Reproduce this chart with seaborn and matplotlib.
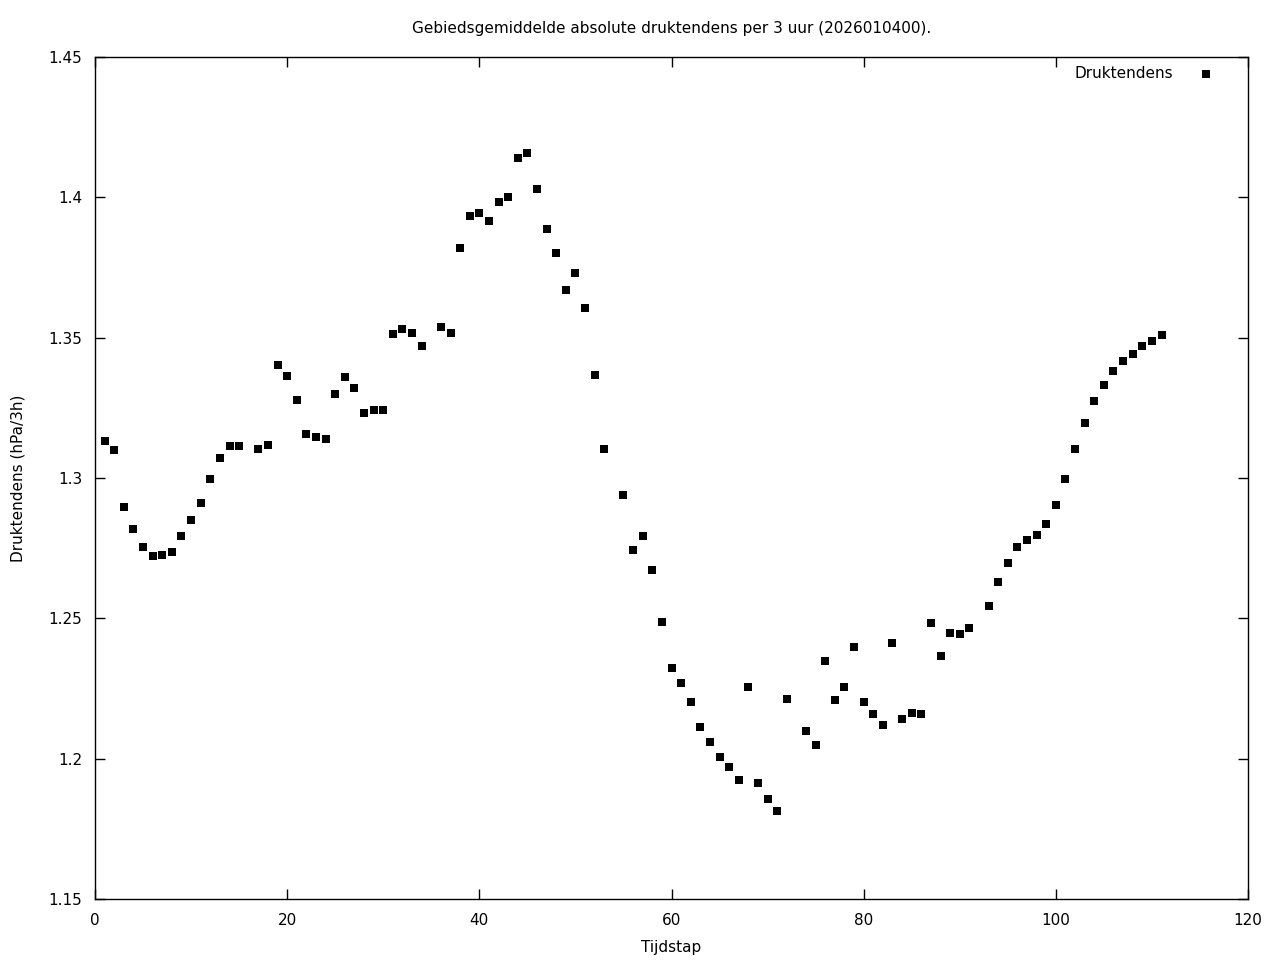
import numpy as np
import pandas as pd
import matplotlib
matplotlib.use('Agg')
import matplotlib.pyplot as plt
import seaborn as sns

# Tijdstappen 1..111 (16, 35, 54, 73 en 92 ontbreken)
tijdstap = [1, 2, 3, 4, 5, 6, 7, 8, 9, 10, 11, 12, 13, 14, 15, 17, 18, 19, 20,
            21, 22, 23, 24, 25, 26, 27, 28, 29, 30, 31, 32, 33, 34, 36, 37, 38,
            39, 40, 41, 42, 43, 44, 45, 46, 47, 48, 49, 50, 51, 52, 53, 55, 56,
            57, 58, 59, 60, 61, 62, 63, 64, 65, 66, 67, 68, 69, 70, 71, 72, 74,
            75, 76, 77, 78, 79, 80, 81, 82, 83, 84, 85, 86, 87, 88, 89, 90, 91,
            93, 94, 95, 96, 97, 98, 99, 100, 101, 102, 103, 104, 105, 106, 107,
            108, 109, 110, 111]

druktendens = [1.3132, 1.3100, 1.2897, 1.2818, 1.2754, 1.2722, 1.2726, 1.2736,
               1.2793, 1.2850, 1.2911, 1.2996, 1.3071, 1.3114, 1.3114, 1.3103,
               1.3118, 1.3403, 1.3363, 1.3278, 1.3157, 1.3146, 1.3139, 1.3299,
               1.3360, 1.3321, 1.3232, 1.3242, 1.3242, 1.3513, 1.3531, 1.3517,
               1.3470, 1.3538, 1.3517, 1.3820, 1.3933, 1.3944, 1.3916, 1.3983,
               1.4001, 1.4140, 1.4158, 1.4030, 1.3887, 1.3802, 1.3670, 1.3730,
               1.3606, 1.3367, 1.3103, 1.2939, 1.2743, 1.2793, 1.2672, 1.2487,
               1.2323, 1.2270, 1.2202, 1.2113, 1.2059, 1.2006, 1.1970, 1.1924,
               1.2255, 1.1913, 1.1856, 1.1814, 1.2213, 1.2099, 1.2049, 1.2348,
               1.2209, 1.2255, 1.2398, 1.2202, 1.2159, 1.2120, 1.2412, 1.2141,
               1.2163, 1.2159, 1.2483, 1.2366, 1.2448, 1.2444, 1.2466, 1.2544,
               1.2629, 1.2697, 1.2754, 1.2779, 1.2797, 1.2836, 1.2904, 1.2996,
               1.3103, 1.3196, 1.3274, 1.3331, 1.3381, 1.3417, 1.3442, 1.3470,
               1.3488, 1.3510]

x_ticks = [0, 20, 40, 60, 80, 100, 120]
y_ticks = [1.15, 1.2, 1.25, 1.3, 1.35, 1.4, 1.45]
y_labels = ['1.15', '1.2', '1.25', '1.3', '1.35', '1.4', '1.45']

df = pd.DataFrame({'Tijdstap': tijdstap, 'Druktendens': druktendens})

sns.set_style('ticks')
plt.rcParams['font.family'] = ['DejaVu Sans']
plt.rcParams['text.color'] = 'black'
plt.rcParams['axes.labelcolor'] = 'black'

fig = plt.figure(figsize=(12.8, 9.6), dpi=100)
ax = fig.add_axes([95 / 1280, 1 - 899 / 960, (1248 - 95) / 1280, (899 - 57) / 960])

sns.scatterplot(x='Tijdstap', y='Druktendens', data=df, ax=ax, marker='s',
                color='black', s=26, linewidth=0, label='Druktendens')

ax.set_xlim(0, 120)
ax.set_ylim(1.15, 1.45)
ax.set_xticks(x_ticks)
ax.set_yticks(y_ticks)
ax.set_yticklabels(y_labels)
ax.tick_params(direction='in', top=True, right=True, length=7, width=1,
               labelsize=11, colors='black')
ax.tick_params(axis='y', pad=9)
ax.tick_params(axis='x', pad=10)
for sp in ax.spines.values():
    sp.set_visible(True)
    sp.set_color('black')
    sp.set_linewidth(1)

ax.set_xlabel('Tijdstap', fontsize=11, labelpad=9)
ax.set_ylabel('Druktendens (hPa/3h)', fontsize=11, labelpad=17)
ax.set_title('Gebiedsgemiddelde absolute druktendens per 3 uur (2026010400).',
             fontsize=11, pad=17)

ax.legend(loc='upper right', bbox_to_anchor=(0.9844, 1.0), frameon=False,
          markerfirst=False, fontsize=11, handletextpad=1.14,
          borderaxespad=0.2, markerscale=1.0)

fig.savefig('out.png', dpi=100)
